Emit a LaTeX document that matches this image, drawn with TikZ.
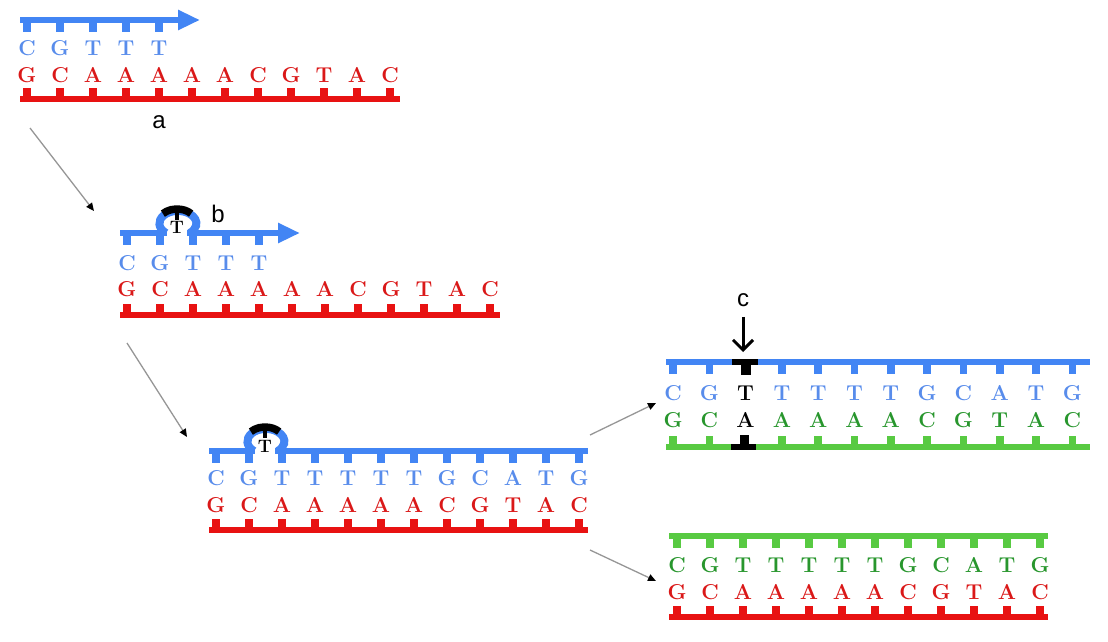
\documentclass[tikz,border=0pt]{standalone}
\usepackage{fontspec}
\usetikzlibrary{arrows.meta}
\newfontfamily\labelfont{Liberation Sans}

\definecolor{dnablue}{RGB}{66,133,244}
\definecolor{letterblue}{RGB}{88,140,235}
\definecolor{dnared}{RGB}{232,18,18}
\definecolor{letterred}{RGB}{218,24,24}
\definecolor{dnagreen}{RGB}{88,202,66}
\definecolor{lettergreen}{RGB}{40,150,45}
\definecolor{linkgray}{RGB}{150,150,150}

% ticks of a backbone: colour, first x, spacing, count, y, direction (1 down, -1 up)
\newcommand{\ticks}[6]{%
  \foreach \k in {1,...,#4}
    \fill[#1] ({#2+(\k-1)*#3-3.8},#5) rectangle ({#2+(\k-1)*#3+3.8},{#5+11.5*#6});
}

\begin{document}
\begin{tikzpicture}[x=1pt,y=-1pt]
	  \useasboundingbox (0,0) rectangle (1108,641);
	  \tikzset{BackboneStyle/.style = {line width   = 6.5pt}}
	  \tikzset{BaseStyle/.style     = {font         = \rmfamily\bfseries\fontsize{21.5}{21.5}\selectfont,
	                                   inner sep    = 0pt}}
	  \tikzset{LoopBaseStyle/.style = {font         = \rmfamily\bfseries\fontsize{18}{18}\selectfont,
	                                   inner sep    = 0pt}}
	  \tikzset{LabelStyle/.style    = {font         = \labelfont\fontsize{24}{24}\selectfont,
	                                   inner sep    = 0pt}}
	  \tikzset{LinkStyle/.style     = {linkgray, line width = 1.3pt,
	                                   -{Triangle[length=8pt,width=7pt,color=black]}}}
	  \tikzset{StrandArrow/.style   = {-{Triangle[length=22pt,width=19pt]}}}
	  \tikzset{LoopStyle/.style     = {line width   = 8pt}}
	  \tikzset{CapStyle/.style      = {black, line width = 7.5pt}}

	  % (a) primer on template
	     \draw[BackboneStyle,dnablue,StrandArrow] (20,20) -- (200,20);
	     \ticks{dnablue}{27}{33}{5}{20}{1}
	     \foreach \l [count=\i] in {C,G,T,T,T}
	        \node[BaseStyle,text=letterblue] (a-t\i) at ({27+(\i-1)*33},48) {\l};
	     \foreach \l [count=\i] in {G,C,A,A,A,A,A,C,G,T,A,C}
	        \node[BaseStyle,text=letterred] (a-b\i) at ({27+(\i-1)*33},75) {\l};
	     \draw[BackboneStyle,dnared] (20,99) -- (400,99);
	     \ticks{dnared}{27}{33}{12}{99}{-1}
	     \node[LabelStyle] (lab-a) at (159,122) {a};

	  % (b) slipped T loop
	     \draw[BackboneStyle,dnablue,StrandArrow] (120,233) -- (300,233);
	     \fill[white] (167,228) rectangle (187,238);
	     \draw[LoopStyle,dnablue] (166,233) arc[start angle=130,end angle=410,x radius=18.5,y radius=12.5];
	     \ticks{dnablue}{127}{33}{5}{233}{1}
	     \draw[CapStyle] ([shift={(177,223)}]222:19 and 14) arc[start angle=222,end angle=318,x radius=19,y radius=14];
	     \fill[black] (175,212) rectangle (179,220);
	     \node[LoopBaseStyle] (b-loop) at (177,227) {T};
	     \node[LabelStyle] (lab-b) at (218,214) {b};
	     \foreach \l [count=\i] in {C,G,T,T,T}
	        \node[BaseStyle,text=letterblue] (b-t\i) at ({127+(\i-1)*33},263) {\l};
	     \foreach \l [count=\i] in {G,C,A,A,A,A,A,C,G,T,A,C}
	        \node[BaseStyle,text=letterred] (b-b\i) at ({127+(\i-1)*33},289) {\l};
	     \draw[BackboneStyle,dnared] (120,315) -- (500,315);
	     \ticks{dnared}{127}{33}{12}{315}{-1}

	  % (c) extended strand
	     \draw[BackboneStyle,dnablue] (209,451) -- (588,451);
	     \fill[white] (255,446) rectangle (275,456);
	     \draw[LoopStyle,dnablue] (254,451) arc[start angle=130,end angle=410,x radius=18.5,y radius=12.5];
	     \ticks{dnablue}{216}{33}{12}{451}{1}
	     \draw[CapStyle] ([shift={(265,441)}]222:19 and 14) arc[start angle=222,end angle=318,x radius=19,y radius=14];
	     \fill[black] (263,430) rectangle (267,438);
	     \node[LoopBaseStyle] (c-loop) at (265,446) {T};
	     \foreach \l [count=\i] in {C,G,T,T,T,T,T,G,C,A,T,G}
	        \node[BaseStyle,text=letterblue] (c-t\i) at ({216+(\i-1)*33},478) {\l};
	     \foreach \l [count=\i] in {G,C,A,A,A,A,A,C,G,T,A,C}
	        \node[BaseStyle,text=letterred] (c-b\i) at ({216+(\i-1)*33},505) {\l};
	     \draw[BackboneStyle,dnared] (209,530) -- (588,530);
	     \ticks{dnared}{216}{33}{12}{530}{-1}

	  % (d) mutant duplex
	     \draw[BackboneStyle,dnablue] (666,362) -- (1090,362);
	     \ticks{dnablue}{673}{36.3}{12}{362}{1}
	     \draw[BackboneStyle,black] (732,362) -- (758,362);
	     \fill[black] (741,362) rectangle (750.5,375);
	     \foreach \l/\c [count=\i] in {C/letterblue,G/letterblue,T/black,T/letterblue,T/letterblue,T/letterblue,
	                                   T/letterblue,G/letterblue,C/letterblue,A/letterblue,T/letterblue,G/letterblue}
	        \node[BaseStyle,text=\c] (d-t\i) at ({673+(\i-1)*36.3},393) {\l};
	     \foreach \l/\c [count=\i] in {G/lettergreen,C/lettergreen,A/black,A/lettergreen,A/lettergreen,A/lettergreen,
	                                   A/lettergreen,C/lettergreen,G/lettergreen,T/lettergreen,A/lettergreen,C/lettergreen}
	        \node[BaseStyle,text=\c] (d-b\i) at ({673+(\i-1)*36.3},420) {\l};
	     \draw[BackboneStyle,dnagreen] (666,447) -- (1090,447);
	     \ticks{dnagreen}{673}{36.3}{12}{447}{-1}
	     \draw[BackboneStyle,black] (731,447) -- (756,447);
	     \fill[black] (739.5,447) rectangle (749,435);
	     \node[LabelStyle] (lab-c) at (743,300) {c};
	     \coordinate (d-mark) at (743,352);
	     \draw[line width=3pt,-{Straight Barb[length=10pt,width=20pt]}] (lab-c.south) ++(0,10) -- (d-mark);

	  % (e) wild type duplex
	     \draw[BackboneStyle,dnagreen] (669,536) -- (1048,536);
	     \ticks{dnagreen}{677}{33}{12}{536}{1}
	     \foreach \l [count=\i] in {C,G,T,T,T,T,T,G,C,A,T,G}
	        \node[BaseStyle,text=lettergreen] (e-t\i) at ({677+(\i-1)*33},565) {\l};
	     \foreach \l [count=\i] in {G,C,A,A,A,A,A,C,G,T,A,C}
	        \node[BaseStyle,text=letterred] (e-b\i) at ({677+(\i-1)*33},592) {\l};
	     \draw[BackboneStyle,dnared] (669,617) -- (1048,617);
	     \ticks{dnared}{677}{33}{12}{617}{-1}

	  % links between steps
	     \coordinate (a-out) at (30,128);   \coordinate (b-in) at (94,211);
	     \coordinate (b-out) at (127,343);  \coordinate (c-in) at (187,437);
	     \coordinate (c-up) at (590,435);   \coordinate (d-in) at (656,403);
	     \coordinate (c-down) at (590,550); \coordinate (e-in) at (656,581);
	     \draw[LinkStyle] (a-out) -- (b-in);
	     \draw[LinkStyle] (b-out) -- (c-in);
	     \draw[LinkStyle] (c-up) -- (d-in);
	     \draw[LinkStyle] (c-down) -- (e-in);
\end{tikzpicture}
\end{document}
